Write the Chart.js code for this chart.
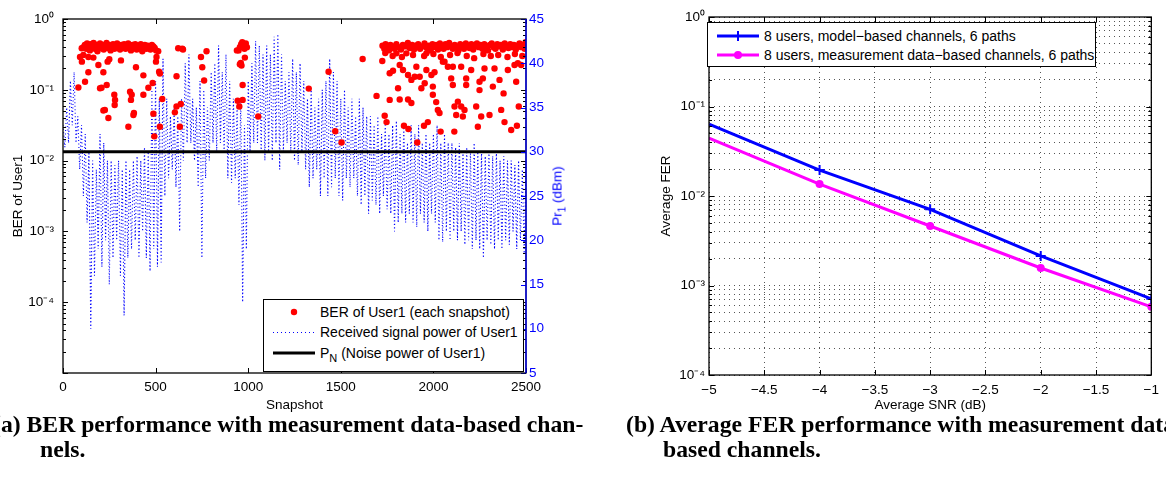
<!DOCTYPE html>
<html>
<head>
<meta charset="utf-8">
<script src="https://cdn.jsdelivr.net/npm/chart.js@4.4.1/dist/chart.umd.min.js"></script>
<style>
  body { margin:0; width:1166px; height:488px; overflow:hidden; background:#fff; position:relative; font-family:'Liberation Sans', Arial, sans-serif; }
  canvas { position:absolute; top:0; }
  #berChart { left:0; }
  #ferChart { left:600px; }
  .legend { position:absolute; background:#fff; border:1.3px solid #000; box-sizing:border-box; font-size:14px; color:#000; }
  .legend .row { position:absolute; left:0; right:0; height:20px; line-height:20px; white-space:nowrap; }
  .legend svg { position:absolute; left:8px; top:0; }
  .legend .txt { position:absolute; left:56px; top:0; }
  .legend sub { font-size:11px; line-height:0; }
  #prTitle { position:absolute; left:557px; top:196px; transform:translate(-50%,-50%) rotate(-90deg); color:#0000ff; font-size:13.5px; white-space:nowrap; }
  #prTitle sub { font-size:10px; line-height:0; }
  .caption { position:absolute; font-family:'Liberation Serif','Times New Roman',serif; font-weight:bold; font-size:23.7px; line-height:26px; white-space:nowrap; color:#000; }
</style>
</head>
<body>
<canvas id="berChart" width="600" height="415"></canvas>
<canvas id="ferChart" width="566" height="415"></canvas>

<div id="prTitle">Pr<sub>1</sub> (dBm)</div>

<div class="legend" style="left:263px; top:299px; width:261px; height:73px;">
  <div class="row" style="top:2px;">
    <svg width="44" height="20"><circle cx="22" cy="10" r="3.2" fill="#ff0000"/></svg>
    <span class="txt">BER of User1 (each snapshot)</span>
  </div>
  <div class="row" style="top:22px;">
    <svg width="44" height="20"><line x1="1" y1="10.5" x2="43" y2="10.5" stroke="#0000ff" stroke-width="1" stroke-dasharray="1 3"/></svg>
    <span class="txt">Received signal power of User1</span>
  </div>
  <div class="row" style="top:43px;">
    <svg width="44" height="20"><line x1="1" y1="10" x2="43" y2="10" stroke="#000" stroke-width="3"/></svg>
    <span class="txt">P<sub>N</sub> (Noise power of User1)</span>
  </div>
</div>

<div class="legend" style="left:707px; top:22px; width:389px; height:45px;">
  <div class="row" style="top:3px;">
    <svg width="44" height="20"><line x1="1" y1="10" x2="43" y2="10" stroke="#0000ff" stroke-width="3"/><path d="M22 5 V15 M17 10 H27" stroke="#0000ff" stroke-width="2"/></svg>
    <span class="txt">8 users, model&#8722;based channels, 6 paths</span>
  </div>
  <div class="row" style="top:22px;">
    <svg width="44" height="20"><line x1="1" y1="10" x2="43" y2="10" stroke="#ff00ff" stroke-width="3"/><circle cx="22" cy="10" r="4" fill="#ff00ff"/></svg>
    <span class="txt">8 users, measurement data&#8722;based channels, 6 paths</span>
  </div>
</div>

<div class="caption" style="left:-7px; top:411px;">(a) BER performance with measurement data-based chan-</div>
<div class="caption" style="left:40px; top:436px;">nels.</div>
<div class="caption" style="left:626px; top:411px;">(b) Average FER performance with measurement data-</div>
<div class="caption" style="left:663px; top:436px;">based channels.</div>

<script>
// (a) received signal power of User1 in dBm, one sample every 10 snapshots (0..2500)
const powerStep = 10;
const powerDbm = [
  33, 30.5, 35, 31, 38, 33, 39, 31, 34, 28,
  33, 25, 32, 22, 30, 10, 29, 16, 28, 19,
  32, 17, 31, 20, 29, 15, 29, 18, 28.5, 20,
  29, 16, 28, 11.5, 29, 18, 28, 19, 29, 20,
  29.5, 18, 29, 21, 30.5, 18, 30, 16.5, 37, 19,
  38, 17, 36, 17.5, 40.5, 25, 36, 27, 34, 28,
  35, 26, 34, 21, 36, 29, 40, 31, 41, 31,
  36, 29, 35, 26, 38, 18, 37, 27, 35, 29,
  39, 31, 40, 30, 42, 31, 39, 30, 41, 27,
  38, 26.5, 36, 27, 35, 24, 36, 13, 33, 19,
  38, 30, 40, 31, 42.5, 31, 42, 30, 41, 29,
  42, 30, 41, 29, 43, 31, 43.3, 28, 41, 30,
  38, 31, 39, 30, 40.5, 29, 39, 28.5, 40, 30,
  38, 28, 36, 26, 37, 27, 35, 28, 36, 25,
  37, 27, 38, 25, 40.5, 26, 39, 27, 38, 25,
  36, 24.5, 37, 27, 35, 26, 36, 27, 34, 25,
  36, 24, 35, 25, 34, 23, 34, 24.5, 33, 24,
  34, 23, 32, 25, 33, 23.5, 32, 23, 33, 21,
  33.5, 22, 32, 23, 33, 22, 31, 23, 33, 22,
  32, 21.5, 33, 23, 31, 22, 32, 21, 31, 23,
  32, 22, 33, 20, 31, 19.8, 32, 21, 31, 20,
  31, 21, 30.5, 20, 31, 21, 30, 19.5, 30.5, 20,
  30, 19, 31, 20, 30, 19, 30, 18, 29.5, 20,
  30, 19.5, 29.5, 19, 30, 20, 29, 19, 29.5, 20,
  29, 19.5, 29, 21, 28.5, 19, 29, 20, 28, 18.5,
  28
];

// noise power of User1 (dBm)
const noiseSnapshot = [0, 2500];
const noiseDbm = [30, 30];

// BER of User1 at each snapshot: [snapshot, BER]
const berPoints = [
  [83,0.108],[92,0.29],[101,0.386],[102,0.25],[110,0.31],[119,0.13],[137,0.29],[137,0.177],[164,0.285],[191,0.224],
  [200,0.105],[208,0.107],[218,0.177],[218,0.051],[226,0.052],[236,0.117],[241,0.25],[245,0.040],[250,0.27],[277,0.085],
  [281,0.072],[279,0.061],[313,0.26],[353,0.030],[362,0.094],[367,0.072],[371,0.085],[380,0.044],[383,0.047],[394,0.208],
  [434,0.16],[434,0.085],[461,0.107],[484,0.125],[488,0.046],[493,0.022],[502,0.25],[505,0.29],[514,0.35],[519,0.18],
  [523,0.17],[523,0.030],[536,0.074],
  [110,0.40],[118,0.43],[125,0.38],[130,0.45],[138,0.41],[145,0.36],[150,0.44],[158,0.40],[165,0.46],[172,0.38],
  [180,0.43],[186,0.35],[192,0.41],[200,0.45],[207,0.39],[214,0.43],[220,0.37],[228,0.42],[235,0.46],[242,0.39],
  [250,0.43],[257,0.36],[263,0.41],[270,0.44],[278,0.38],[285,0.42],[292,0.45],[300,0.40],[308,0.37],[315,0.43],
  [322,0.41],[330,0.44],[338,0.38],[345,0.42],[352,0.45],[360,0.39],[367,0.36],[375,0.43],[383,0.40],[390,0.44],
  [398,0.37],[405,0.42],[412,0.39],[420,0.44],[428,0.35],[435,0.41],[442,0.43],[450,0.38],[458,0.42],[465,0.40],
  [472,0.37],[480,0.43],[488,0.41],[495,0.39],[503,0.36],
  [604,0.048],[613,0.155],[613,0.058],[622,0.386],[631,0.030],[636,0.063],[644,0.38],[648,0.37],
  [745,0.29],[752,0.208],[762,0.135],[775,0.35],
  [939,0.36],[943,0.070],[952,0.058],[955,0.23],[964,0.22],[970,0.117],[970,0.072],[982,0.285],[960,0.24],
  [948,0.36],[955,0.40],[962,0.44],[968,0.47],[975,0.42],[980,0.38],[987,0.45],[993,0.40],
  [1054,0.042],[1327,0.104],[1434,0.18],[1470,0.026],[1504,0.018],[1618,0.272],[1693,0.082],[1737,0.043],[1747,0.035],
  [1841,0.031],[1865,0.028],[1913,0.018],[1949,0.031],[2039,0.0257],[2113,0.0257],
  [1725,0.42],[1735,0.38],[1742,0.44],[1750,0.40],[1760,0.36],[1768,0.43],[1778,0.41],[1790,0.38],[1800,0.44],[1812,0.40],
  [1825,0.37],[1835,0.43],[1850,0.41],[1862,0.46],[1872,0.39],[1885,0.43],[1895,0.37],[1905,0.42],[1918,0.44],[1928,0.38],
  [1940,0.41],[1952,0.45],[1965,0.39],[1975,0.42],[1985,0.36],[1995,0.44],[2005,0.40],[2015,0.43],[2025,0.37],[2035,0.45],
  [2045,0.41],[2055,0.38],[2065,0.44],[2075,0.40],[2085,0.46],[2095,0.42],[2105,0.38],[2115,0.43],[2125,0.40],[2135,0.36],
  [2145,0.44],[2155,0.41],[2165,0.38],[2175,0.45],[2185,0.42],[2195,0.39],[2205,0.44],[2215,0.37],[2225,0.42],[2235,0.45],
  [2245,0.40],[2255,0.43],[2265,0.38],[2275,0.44],[2285,0.41],[2295,0.36],[2305,0.43],[2315,0.45],[2325,0.40],[2335,0.38],
  [2345,0.44],[2355,0.41],[2365,0.43],[2375,0.37],[2385,0.45],[2395,0.42],[2405,0.39],[2415,0.44],[2425,0.40],[2435,0.43],
  [2445,0.37],[2455,0.42],[2465,0.45],[2475,0.40],[2485,0.43],[2493,0.38],[2498,0.47],
  [1740,0.33],[1780,0.30],[1830,0.29],[1890,0.31],[1950,0.30],[2000,0.32],[2040,0.29],[2090,0.31],[2130,0.33],[2180,0.30],
  [2220,0.28],[2270,0.32],[2310,0.30],[2350,0.31],[2400,0.29],[2440,0.32],[2480,0.30],
  [1724,0.255],[1764,0.171],[1782,0.186],[1809,0.105],[1764,0.072],[1818,0.073],[1863,0.073],[1881,0.065],[1970,0.035],[1997,0.085],
  [2015,0.067],[2024,0.052],[2033,0.047],[2114,0.058],[2123,0.044],[2132,0.068],[2150,0.058],[2159,0.042],[2168,0.052],[2105,0.117],
  [2096,0.145],[2078,0.212],[2060,0.25],[2105,0.212],[2150,0.212],[2177,0.145],[2177,0.117],[2204,0.19],[2231,0.058],[2240,0.030],
  [2258,0.042],[2249,0.099],[2249,0.130],[2267,0.145],[2276,0.20],[2303,0.044],[2321,0.111],[2330,0.20],[2357,0.138],[2366,0.052],
  [2379,0.089],[2384,0.035],[2402,0.19],[2420,0.027],[2438,0.224],[2447,0.130],[2451,0.031],[2456,0.237],[2461,0.058],[2474,0.224],
  [1863,0.162],[1881,0.138],[1899,0.153],[1908,0.212],[1926,0.153],[1935,0.105],[1953,0.124],[1962,0.19],[1989,0.162],[2006,0.177],
  [1997,0.111],[1836,0.19],[1818,0.224],[1854,0.327],[1800,0.327],[1962,0.327],[2051,0.25]
];

// (b) average FER vs average SNR
const snrDb = [-5, -4, -3, -2, -1];
const ferModel = [0.0635, 0.0195, 0.0071, 0.00214, 0.00071];
const ferMeasured = [0.0443, 0.0136, 0.00462, 0.00157, 0.000578];

// log axis ticks (decades plus 2..9 minor)
function logTicks(fromExp, toExp) {
  const out = [];
  for (let e = fromExp; e < toExp; e++) {
    for (let m = 1; m <= 9; m++) out.push(+(m * Math.pow(10, e)).toPrecision(3));
  }
  out.push(Math.pow(10, toExp));
  return out;
}
const berTicks = logTicks(-5, 0);
const ferTicks = logTicks(-4, 0);

const sup = {'0':'\u2070','1':'\u00B9','2':'\u00B2','3':'\u00B3','4':'\u2074','5':'\u2075','-':'\u207B'};
function isDecade(v) {
  const l = Math.log10(v);
  return Math.abs(l - Math.round(l)) < 1e-6;
}
function decadeLabel(v) {
  if (!isDecade(v)) return '';
  const e = Math.round(Math.log10(v));
  return '10' + String(e).split('').map(c => sup[c]).join('');
}

Chart.defaults.font.family = "'Liberation Sans', Arial, sans-serif";
Chart.defaults.font.size = 13.5;
Chart.defaults.color = '#000';

// matlab-like box with inward tick marks
const frameTicks = {
  id: 'frameTicks',
  afterDatasetsDraw(chart, args, opts) {
    const {ctx, chartArea: {left, right, top, bottom}} = chart;
    ctx.save();
    ctx.lineWidth = 1;
    (opts.marks || []).forEach(m => {
      const scale = chart.scales[m.axis];
      ctx.strokeStyle = m.color || '#000';
      ctx.beginPath();
      scale.ticks.forEach(t => {
        const len = (!m.log || isDecade(t.value)) ? 5 : 3;
        const p = Math.round(scale.getPixelForValue(t.value)) + 0.5;
        m.edges.forEach(edge => {
          if (edge === 'bottom') { ctx.moveTo(p, bottom); ctx.lineTo(p, bottom - len); }
          if (edge === 'top') { ctx.moveTo(p, top); ctx.lineTo(p, top + len); }
          if (edge === 'left') { ctx.moveTo(left, p); ctx.lineTo(left + len, p); }
          if (edge === 'right') { ctx.moveTo(right, p); ctx.lineTo(right - len, p); }
        });
      });
      ctx.stroke();
    });
    ctx.lineWidth = 1.3;
    ctx.strokeStyle = '#000';
    ctx.strokeRect(left, top, right - left, bottom - top);
    if (opts.rightColor) {
      ctx.strokeStyle = opts.rightColor;
      ctx.beginPath();
      ctx.moveTo(right, top);
      ctx.lineTo(right, bottom);
      ctx.stroke();
    }
    ctx.restore();
  }
};

// ---- (a) BER of User1 / received power ----
new Chart(document.getElementById('berChart'), {
  type: 'scatter',
  data: {
    datasets: [
      {
        label: 'PN (Noise power of User1)',
        data: noiseSnapshot.map((x, i) => ({x, y: noiseDbm[i]})),
        yAxisID: 'y2',
        showLine: true,
        borderColor: '#000',
        borderWidth: 3,
        pointRadius: 0
      },
      {
        label: 'BER of User1 (each snapshot)',
        data: berPoints.map(([x, y]) => ({x, y})),
        yAxisID: 'y',
        pointRadius: 3.2,
        backgroundColor: '#ff0000',
        borderWidth: 0
      },
      {
        label: 'Received signal power of User1',
        data: powerDbm.map((y, i) => ({x: i * powerStep, y})),
        yAxisID: 'y2',
        showLine: true,
        borderColor: '#0000ff',
        borderWidth: 1.1,
        borderDash: [1.1, 2.4],
        pointRadius: 0
      }
    ]
  },
  options: {
    responsive: false,
    animation: false,
    devicePixelRatio: 1,
    events: [],
    layout: { padding: { top: 19, left: 0, right: 0, bottom: 0 } },
    plugins: {
      legend: { display: false },
      tooltip: { enabled: false },
      frameTicks: {
        marks: [
          { axis: 'x', edges: ['bottom', 'top'] },
          { axis: 'y', edges: ['left', 'right'], log: true },
          { axis: 'y2', edges: ['right'], color: '#0000ff' }
        ],
        rightColor: '#0000ff'
      }
    },
    scales: {
      x: {
        type: 'linear', min: 0, max: 2500,
        ticks: { stepSize: 500, padding: 6, maxRotation: 0, callback: v => String(v) },
        grid: { display: false, drawTicks: false },
        border: { display: false },
        title: { display: true, text: 'Snapshot', padding: { top: 0, bottom: 2 } },
        afterFit: s => { s.height = 42; }
      },
      y: {
        type: 'logarithmic', position: 'left', min: 1e-5, max: 1,
        afterBuildTicks: s => { s.ticks = berTicks.map(value => ({value})); },
        ticks: { autoSkip: false, padding: 9, callback: v => (v < 1e-4 ? '' : decadeLabel(v)) },
        grid: { display: false, drawTicks: false },
        border: { display: false },
        title: { display: true, text: 'BER of User1', padding: { top: 10, bottom: 0 } },
        afterFit: s => { s.width = 63; }
      },
      y2: {
        type: 'linear', position: 'right', min: 5, max: 45,
        ticks: { stepSize: 5, padding: 3, color: '#0000ff' },
        grid: { display: false, drawTicks: false },
        border: { display: false },
        afterFit: s => { s.width = 74; }
      }
    }
  },
  plugins: [frameTicks]
});

// ---- (b) Average FER ----
const minus = v => String(v).replace('-', '\u2212');
new Chart(document.getElementById('ferChart'), {
  type: 'line',
  data: {
    datasets: [
      {
        label: '8 users, model\u2212based channels, 6 paths',
        data: snrDb.map((x, i) => ({x, y: ferModel[i]})),
        borderColor: '#0000ff',
        borderWidth: 3,
        pointStyle: 'cross',
        pointRadius: [0, 5, 5, 5, 5],
        pointBorderColor: '#0000ff',
        pointBorderWidth: 2,
        tension: 0
      },
      {
        label: '8 users, measurement data\u2212based channels, 6 paths',
        data: snrDb.map((x, i) => ({x, y: ferMeasured[i]})),
        borderColor: '#ff00ff',
        borderWidth: 3,
        pointStyle: 'circle',
        pointRadius: [0, 4, 4, 4, 4],
        pointBackgroundColor: '#ff00ff',
        pointBorderWidth: 0,
        tension: 0
      }
    ]
  },
  options: {
    responsive: false,
    animation: false,
    devicePixelRatio: 1,
    events: [],
    layout: { padding: { top: 17, left: 0, right: 3, bottom: 0 } },
    plugins: {
      legend: { display: false },
      tooltip: { enabled: false },
      frameTicks: {
        marks: [
          { axis: 'x', edges: ['bottom', 'top'] },
          { axis: 'y', edges: ['left', 'right'], log: true }
        ]
      }
    },
    scales: {
      x: {
        type: 'linear', min: -5, max: -1,
        ticks: { stepSize: 0.5, padding: 7, maxRotation: 0, callback: minus },
        grid: { color: '#555', lineWidth: 1, drawTicks: false },
        border: { display: false, dash: [1, 4] },
        title: { display: true, text: 'Average SNR (dB)', padding: { top: 0, bottom: 2 } },
        afterFit: s => { s.height = 40; }
      },
      y: {
        type: 'logarithmic', min: 1e-4, max: 1,
        afterBuildTicks: s => { s.ticks = ferTicks.map(value => ({value})); },
        ticks: { autoSkip: false, padding: 4, callback: decadeLabel },
        grid: { color: '#555', lineWidth: 1, drawTicks: false },
        border: { display: false, dash: [1, 4] },
        title: { display: true, text: 'Average FER', padding: { top: 58, bottom: 0 } },
        afterFit: s => { s.width = 109; }
      }
    }
  },
  plugins: [frameTicks]
});
</script>
</body>
</html>
